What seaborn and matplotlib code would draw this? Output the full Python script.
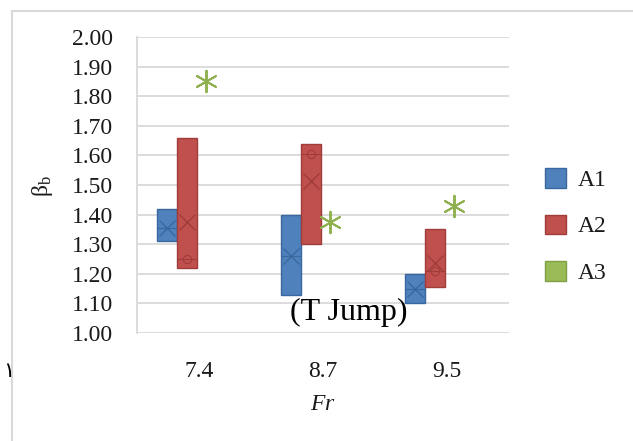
import matplotlib
matplotlib.use("agg")
import matplotlib.pyplot as plt
from matplotlib.lines import Line2D
from matplotlib.patches import Patch
import numpy as np
import pandas as pd
import seaborn as sns

# values
fr_labels = ["7.4", "8.7", "9.5"]
a1_q1 = [1.31, 1.13, 1.10]
a1_q3 = [1.42, 1.40, 1.20]
a1_mean = [1.355, 1.26, 1.15]
a2_q1 = [1.22, 1.30, 1.155]
a2_q3 = [1.66, 1.64, 1.35]
a2_mean = [1.375, 1.515, 1.235]
a2_med = [1.25, 1.605, 1.21]
a3_vals = [1.85, 1.375, 1.43]
y_ticks = [1.00, 1.10, 1.20, 1.30, 1.40, 1.50, 1.60, 1.70, 1.80, 1.90, 2.00]

blue, blue_dk = "#4F81BD", "#3A679E"
red, red_dk = "#C0504D", "#A03C3A"
green = "#8FB04E"
grid_c = "#D9D9D9"
txt_c = "#1A1A1A"

sns.set_theme(style="white")
plt.rcParams["font.family"] = ["Liberation Serif", "DejaVu Serif"]
plt.rcParams["mathtext.fontset"] = "custom"
plt.rcParams["mathtext.rm"] = "Liberation Serif"
plt.rcParams["mathtext.it"] = "Liberation Serif:italic"

fig = plt.figure(figsize=(6.33, 4.41), dpi=100)
ax = fig.add_axes([137 / 633, 1 - 333 / 441, 372 / 633, 296 / 441])

x = np.arange(len(fr_labels))
width = 0.16
off = [-0.26, -0.10, 0.06]


def make_stats(q1, q3, mean, med, with_point):
    stats = []
    for i in range(len(q1)):
        stats.append(dict(q1=q1[i], q3=q3[i], mean=mean[i], med=med[i],
                          whislo=q1[i], whishi=q3[i],
                          fliers=[med[i]] if with_point else []))
    return stats


for stats, fc, ec, o, pt in [
    (make_stats(a1_q1, a1_q3, a1_mean, a1_mean, False), blue, blue_dk, off[0], False),
    (make_stats(a2_q1, a2_q3, a2_mean, a2_med, True), red, red_dk, off[1], True),
]:
    ax.bxp(stats, positions=x + o, widths=width, patch_artist=True,
           showmeans=True, showcaps=False, showfliers=pt,
           boxprops=dict(facecolor=fc, edgecolor=ec, linewidth=1),
           whiskerprops=dict(color=ec, linewidth=0),
           medianprops=dict(color=ec, linewidth=0.8),
           meanprops=dict(marker="x", markeredgecolor=ec, markersize=12,
                          markeredgewidth=1),
           flierprops=dict(marker="o", markerfacecolor="none",
                           markeredgecolor=ec, markersize=6,
                           markeredgewidth=0.8))

df3 = pd.DataFrame({"x": x + off[2], "y": a3_vals})
sns.scatterplot(data=df3, x="x", y="y", ax=ax, marker=(6, 2, 0), s=240,
                color=green, edgecolor=green, linewidth=1.4, zorder=5)

ax.set_xlim(-0.5, 2.5)
ax.set_ylim(1.0, 2.0)
ax.set_yticks(y_ticks)
ax.set_yticklabels([f"{v:.2f}" for v in y_ticks])
ax.set_xticks(x)
ax.set_xticklabels(fr_labels)
ax.yaxis.grid(True, color=grid_c, linewidth=1.3)
ax.set_axisbelow(True)
for s in ["top", "right", "bottom"]:
    ax.spines[s].set_visible(False)
ax.spines["left"].set_color(grid_c)
ax.spines["left"].set_linewidth(1.3)
ax.tick_params(axis="y", length=0, pad=17, labelsize=17, labelcolor=txt_c)
ax.tick_params(axis="x", length=0, pad=20, labelsize=17, labelcolor=txt_c)

ax.set_xlabel("$\\mathit{Fr}$", fontsize=17, color=txt_c)
ax.xaxis.set_label_coords(0.5, (333 - 405) / 296)
ax.xaxis.label.set_va("center")
ax.set_ylabel("$\\mathrm{\\beta}_{\\mathrm{b}}$", fontsize=17, color=txt_c,
              rotation=90)
ax.yaxis.set_label_coords((42 - 137) / 372, (333 - 186) / 296)
ax.yaxis.label.set_va("center")
ax.yaxis.label.set_rotation(90)

ax.text(0.57, (333 - 312) / 296, "(T Jump)", transform=ax.transAxes,
        ha="center", va="center", fontsize=23, color="black")

handles = [Patch(facecolor=blue, edgecolor=blue_dk),
           Patch(facecolor=red, edgecolor=red_dk),
           Patch(facecolor="#9BBB59", edgecolor="#7F9F45")]
fig.legend(handles, ["A1", "A2", "A3"], loc="center left",
           bbox_to_anchor=(545 / 633, 1 - 226 / 441), frameon=False,
           fontsize=17, handlelength=0.9, handleheight=0.9,
           handletextpad=0.5, labelspacing=1.0, borderpad=0,
           borderaxespad=0, labelcolor=txt_c)

# outer chart border (left and top edges visible)
fig.add_artist(Line2D([12 / 633, 12 / 633], [0, 1 - 11 / 441],
                      transform=fig.transFigure, color=grid_c, linewidth=1.5))
fig.add_artist(Line2D([12 / 633, 1], [1 - 11 / 441, 1 - 11 / 441],
                      transform=fig.transFigure, color=grid_c, linewidth=1.5))
fig.text(9 / 633, 1 - 371 / 441, "\u0661", family=["DejaVu Sans"],
         fontsize=15, ha="center", va="center", color="black")

fig.savefig("out.png", dpi=100)
